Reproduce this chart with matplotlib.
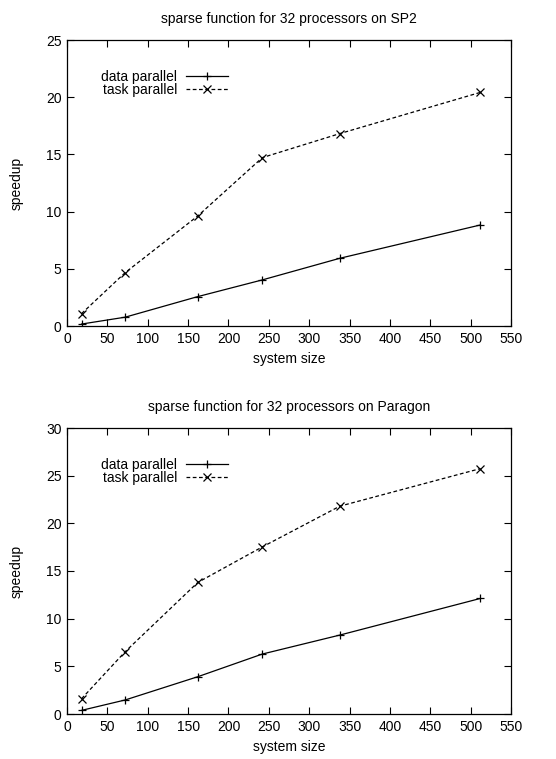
import numpy as np
import matplotlib.pyplot as plt

plt.rcParams['font.family'] = ['Liberation Sans', 'DejaVu Sans']

# system sizes (shared x values)
system_size = [18, 72, 162, 242, 338, 512]

# SP2 speedups
sp2_data = [0.17, 0.77, 2.57, 4.03, 5.92, 8.83]
sp2_task = [1.08, 4.66, 9.62, 14.72, 16.82, 20.42]

# Paragon speedups
par_data = [0.38, 1.47, 3.91, 6.29, 8.28, 12.12]
par_task = [1.6, 6.53, 13.8, 17.53, 21.8, 25.74]

titles = ["sparse function for 32 processors on SP2",
          "sparse function for 32 processors on Paragon"]
ymaxes = [25, 30]
series = [(sp2_data, sp2_task), (par_data, par_task)]

fig = plt.figure(figsize=(5.56, 7.59), dpi=100)
W, H = 556, 759
# axes boxes in pixels: left, top, right, bottom
boxes = [(67, 40, 511, 326), (67, 428, 511, 714)]

for (l, t, r, b), title, ymax, (dp, tp) in zip(boxes, titles, ymaxes, series):
    ax = fig.add_axes([l / W, 1 - b / H, (r - l) / W, (b - t) / H])
    ax.plot(system_size, dp, color="black", lw=0.9, marker="+", ms=6, mew=0.9,
            label="data parallel")
    ax.plot(system_size, tp, color="black", lw=0.9, ls=(0, (3, 2)), marker="x",
            ms=5.5, mew=0.9, label="task parallel")
    ax.set_xlim(0, 550)
    ax.set_ylim(0, ymax)
    ax.set_xticks(np.arange(0, 551, 50))
    ax.set_yticks(np.arange(0, ymax + 1, 5))
    ax.tick_params(direction="in", top=True, right=True, length=5, width=0.8,
                   labelsize=10, pad=4)
    for s in ax.spines.values():
        s.set_linewidth(0.9)
    ax.set_title(title, fontsize=10, pad=12)
    ax.set_xlabel("system size", fontsize=10, labelpad=5)
    ax.set_ylabel("speedup", fontsize=10, labelpad=16)
    ax.legend(loc="upper left", bbox_to_anchor=(0.064, 0.915), frameon=False,
              markerfirst=False, fontsize=10, handlelength=3.0,
              handletextpad=0.65, labelspacing=-0.05, borderaxespad=0)

plt.savefig("out.png", dpi=100)
